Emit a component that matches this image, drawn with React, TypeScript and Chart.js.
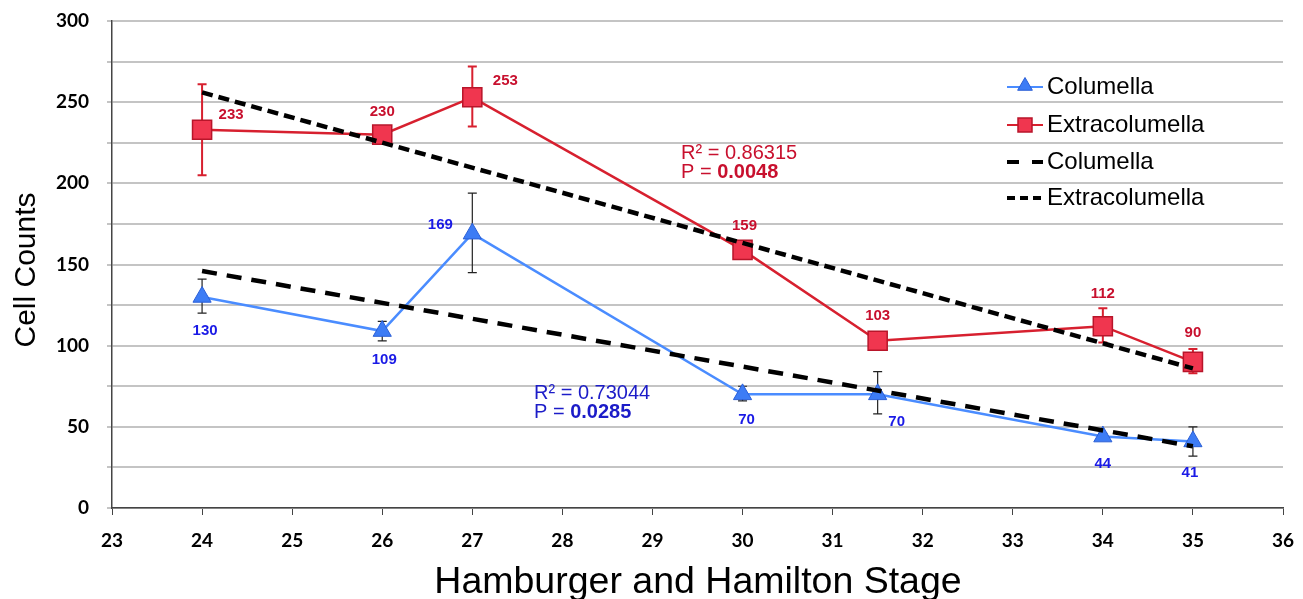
import React, { useEffect, useRef } from "react";
import { Chart, registerables } from "chart.js";

Chart.register(...registerables);

// ---- data ----
const stages = [24, 26, 27, 30, 31.5, 34, 35];
const columella = [130, 109, 169, 70, 70, 44, 41];
const columellaErrLo = [120, 103, 145, 66, 58, 42, 32];
const columellaErrHi = [141, 115, 194, 75, 84, 46, 50];
const extracolumella = [233, 230, 253, 159, 103, 112, 90];
const extraErrLo = [205, 226, 235, 155, 100, 102, 83];
const extraErrHi = [261, 234, 272, 163, 106, 123, 98];
const trendX = [24, 35];
const columellaTrend = [146, 38];
const extraTrend = [256, 86];
const columellaStats = ["R\u00B2 = 0.73044", "0.0285"];
const extraStats = ["R\u00B2 = 0.86315", "0.0048"];
const xTicks = [23, 36];
const yTicks = [0, 300];

// label placement (dx, dy in px relative to point)
const extraLabelOffsets = [[29, -15], [0, -23], [33, -16], [2, -24], [0, -25], [0, -32], [0, -29]];
const colLabelOffsets = [[3, 34], [2, 29], [-32, -9], [4, 25], [19, 27], [0, 27], [-3, 31]];

const BLUE_LINE = "#4a8cff";
const BLUE_FILL = "#3d7cf5";
const BLUE_EDGE = "#2b5fd6";
const BLUE_TEXT = "#1a1ae6";
const RED_LINE = "#d7202f";
const RED_FILL = "#f0364f";
const RED_EDGE = "#b8152a";
const RED_TEXT = "#c8102e";

const toXY = (xs: number[], ys: number[]) => xs.map((x, i) => ({ x, y: ys[i] }));

function drawTriangle(ctx: CanvasRenderingContext2D, x: number, y: number, r: number) {
  ctx.save();
  ctx.beginPath();
  const h = r * 1.5;
  const w = r * Math.sqrt(3);
  ctx.moveTo(x, y - r);
  ctx.lineTo(x + w / 2, y - r + h);
  ctx.lineTo(x - w / 2, y - r + h);
  ctx.closePath();
  ctx.fillStyle = BLUE_FILL;
  ctx.strokeStyle = BLUE_EDGE;
  ctx.lineWidth = 1;
  ctx.fill();
  ctx.stroke();
  ctx.restore();
}

const customPlugin = {
  id: "custom",
  beforeDatasetsDraw(chart: any) {
    const ctx = chart.ctx as CanvasRenderingContext2D;
    const xs = chart.scales.x;
    const ys = chart.scales.y;
    const drawBars = (lo: number[], hi: number[], color: string, lw: number) => {
      ctx.save();
      ctx.strokeStyle = color;
      ctx.lineWidth = lw;
      stages.forEach((s, i) => {
        const px = xs.getPixelForValue(s);
        const y1 = ys.getPixelForValue(lo[i]);
        const y2 = ys.getPixelForValue(hi[i]);
        ctx.beginPath();
        ctx.moveTo(px, y1);
        ctx.lineTo(px, y2);
        ctx.moveTo(px - 4.5, y1);
        ctx.lineTo(px + 4.5, y1);
        ctx.moveTo(px - 4.5, y2);
        ctx.lineTo(px + 4.5, y2);
        ctx.stroke();
      });
      ctx.restore();
    };
    drawBars(extraErrLo, extraErrHi, RED_LINE, 2);
    drawBars(columellaErrLo, columellaErrHi, "#222", 1.2);
  },
  afterDraw(chart: any) {
    const ctx = chart.ctx as CanvasRenderingContext2D;
    const xs = chart.scales.x;
    const ys = chart.scales.y;
    ctx.save();
    // data labels
    ctx.font = "bold 15px 'Liberation Sans', Arial, sans-serif";
    ctx.textAlign = "center";
    ctx.textBaseline = "middle";
    stages.forEach((s, i) => {
      const px = xs.getPixelForValue(s);
      ctx.fillStyle = RED_TEXT;
      ctx.fillText(String(extracolumella[i]), px + extraLabelOffsets[i][0], ys.getPixelForValue(extracolumella[i]) + extraLabelOffsets[i][1]);
      ctx.fillStyle = BLUE_TEXT;
      ctx.fillText(String(columella[i]), px + colLabelOffsets[i][0], ys.getPixelForValue(columella[i]) + colLabelOffsets[i][1]);
    });

    // stats
    const drawStats = (lines: string[], x: number, y: number, color: string) => {
      ctx.fillStyle = color;
      ctx.textAlign = "left";
      ctx.font = "20px 'Liberation Sans', Arial, sans-serif";
      ctx.fillText(lines[0], x, y);
      const pre = "P = ";
      ctx.fillText(pre, x, y + 19);
      const w = ctx.measureText(pre).width;
      ctx.font = "bold 20px 'Liberation Sans', Arial, sans-serif";
      ctx.fillText(lines[1], x + w, y + 19);
    };
    drawStats(extraStats, 681, 153, RED_TEXT);
    drawStats(columellaStats, 534, 393, "#1c1cc8");

    // legend
    const lx0 = 1007, lx1 = 1043, tx = 1047;
    const rows = [87, 125, 162, 198];
    ctx.font = "24px 'Liberation Sans', Arial, sans-serif";
    ctx.textAlign = "left";
    ctx.fillStyle = "#000";
    // row 1
    ctx.strokeStyle = BLUE_LINE;
    ctx.lineWidth = 2;
    ctx.beginPath(); ctx.moveTo(lx0, rows[0]); ctx.lineTo(lx1, rows[0]); ctx.stroke();
    drawTriangle(ctx, (lx0 + lx1) / 2, rows[0] - 1, 8.5);
    ctx.fillStyle = "#000";
    ctx.fillText("Columella", tx, rows[0]);
    // row 2
    ctx.strokeStyle = RED_LINE;
    ctx.lineWidth = 2;
    ctx.beginPath(); ctx.moveTo(lx0, rows[1]); ctx.lineTo(lx1, rows[1]); ctx.stroke();
    ctx.fillStyle = RED_FILL; ctx.strokeStyle = RED_EDGE; ctx.lineWidth = 1.5;
    ctx.fillRect((lx0 + lx1) / 2 - 7, rows[1] - 7, 14, 14);
    ctx.strokeRect((lx0 + lx1) / 2 - 7, rows[1] - 7, 14, 14);
    ctx.fillStyle = "#000";
    ctx.fillText("Extracolumella", tx, rows[1]);
    // row 3
    ctx.strokeStyle = "#000"; ctx.lineWidth = 4;
    ctx.setLineDash([12, 13]);
    ctx.beginPath(); ctx.moveTo(lx0, rows[2]); ctx.lineTo(lx1, rows[2]); ctx.stroke();
    ctx.fillText("Columella", tx, rows[2]);
    // row 4
    ctx.setLineDash([8, 5]);
    ctx.beginPath(); ctx.moveTo(lx0, rows[3]); ctx.lineTo(lx1, rows[3]); ctx.stroke();
    ctx.setLineDash([]);
    ctx.fillText("Extracolumella", tx, rows[3]);

    // axis titles
    ctx.fillStyle = "#000";
    ctx.textAlign = "center";
    ctx.font = "37.5px 'Liberation Sans', Arial, sans-serif";
    ctx.fillText("Hamburger and Hamilton Stage", 698, 583);
    ctx.save();
    ctx.translate(27, 270);
    ctx.rotate(-Math.PI / 2);
    ctx.font = "30px 'Liberation Sans', Arial, sans-serif";
    ctx.fillText("Cell Counts", 0, 0);
    ctx.restore();
    ctx.restore();
  },
};

export default function App() {
  const ref = useRef<HTMLCanvasElement>(null);
  useEffect(() => {
    if (!ref.current) return;
    const tickFont = { family: "Lato, 'Open Sans', sans-serif", size: 19, weight: "bold" as const };
    const chart = new Chart(ref.current, {
      type: "scatter",
      data: {
        datasets: [
          {
            label: "Columella trend",
            data: toXY(trendX, columellaTrend),
            showLine: true,
            borderColor: "#000",
            borderWidth: 4.5,
            borderDash: [15, 10],
            pointRadius: 0,
            order: 0,
          },
          {
            label: "Extracolumella trend",
            data: toXY(trendX, extraTrend),
            showLine: true,
            borderColor: "#000",
            borderWidth: 4.5,
            borderDash: [11, 6],
            pointRadius: 0,
            order: 0,
          },
          {
            label: "Columella",
            data: toXY(stages, columella),
            showLine: true,
            borderColor: BLUE_LINE,
            borderWidth: 2.5,
            pointStyle: "triangle",
            pointRadius: 10.5,
            pointBackgroundColor: BLUE_FILL,
            pointBorderColor: BLUE_EDGE,
            pointBorderWidth: 1,
            order: 1,
          },
          {
            label: "Extracolumella",
            data: toXY(stages, extracolumella),
            showLine: true,
            borderColor: RED_LINE,
            borderWidth: 2.5,
            pointStyle: "rect",
            pointRadius: 13.5,
            pointBackgroundColor: RED_FILL,
            pointBorderColor: RED_EDGE,
            pointBorderWidth: 1.5,
            order: 1,
          },
        ],
      },
      options: {
        animation: false,
        responsive: true,
        maintainAspectRatio: false,
        layout: { padding: { top: 21, right: 20, left: 0, bottom: 0 } },
        plugins: { legend: { display: false }, tooltip: { enabled: false } },
        scales: {
          x: {
            type: "linear",
            min: xTicks[0],
            max: xTicks[1],
            afterFit: (s: any) => { s.height = 91; s.paddingLeft = 0; s.paddingRight = 0; },
            ticks: { stepSize: 1, color: "#000", font: tickFont, padding: 14 },
            grid: { drawOnChartArea: false, tickLength: 7, color: "#444" },
            border: { color: "#444", width: 1.5 },
          },
          y: {
            min: yTicks[0],
            max: yTicks[1],
            afterFit: (s: any) => { s.width = 112; s.paddingTop = 0; s.paddingBottom = 0; },
            ticks: {
              stepSize: 25,
              color: "#000",
              font: tickFont,
              padding: 18,
              callback: (v: any) => (Number(v) % 50 === 0 ? String(v) : ""),
            },
            grid: { color: "#c4c4c4", lineWidth: 2, tickLength: 5 },
            border: { color: "#444", width: 1.5 },
          },
        },
      },
      plugins: [customPlugin],
    });
    return () => chart.destroy();
  }, []);
  return (
    <div style={{ position: "absolute", left: 0, top: 0, width: 1303, height: 599, background: "#fff" }}>
      <canvas ref={ref} />
    </div>
  );
}
